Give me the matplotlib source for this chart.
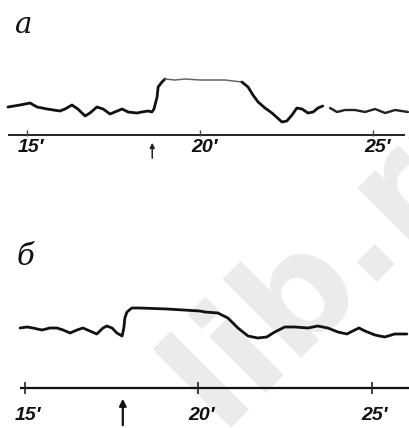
import matplotlib.pyplot as plt

# -----------------------------
# Data (minutes, arbitrary signal units; axis line = 0)
# -----------------------------
tick_minutes = [15, 20, 25]
tick_labels = ["15′", "20′", "25′"]

# trace a: baseline, rise after stimulus, plateau, fall, tail
a_pre_time = [14.45, 14.80, 15.09, 15.29, 15.58, 15.95, 16.10, 16.30, 16.47, 16.68,
              16.82, 17.02, 17.20, 17.40, 17.54, 17.75, 17.92, 18.18, 18.32, 18.50,
              18.61, 18.67, 18.76, 18.79, 18.90, 18.99]
a_pre_signal = [2.8, 3.0, 3.2, 2.8, 2.6, 2.4, 2.6, 3.0, 2.6, 1.9,
                2.2, 2.8, 2.6, 2.1, 2.3, 2.6, 2.3, 2.2, 2.3, 2.4,
                2.3, 2.6, 3.8, 4.8, 5.3, 5.6]
a_plateau_time = [18.99, 19.28, 19.57, 20.00, 20.43, 20.72, 21.21]
a_plateau_signal = [5.6, 5.5, 5.6, 5.5, 5.5, 5.5, 5.3]
a_post_time = [21.21, 21.39, 21.53, 21.68, 21.88, 22.08, 22.37, 22.51, 22.66, 22.80,
               22.95, 23.12, 23.27, 23.41, 23.55]
a_post_signal = [5.3, 4.8, 4.0, 3.3, 2.7, 2.2, 1.3, 1.4, 2.0, 2.7,
                 2.6, 2.2, 2.3, 2.7, 2.9]
a_tail_time = [23.76, 23.96, 24.19, 24.48, 24.77, 25.06, 25.35, 25.64, 26.01]
a_tail_signal = [2.7, 2.3, 2.5, 2.5, 2.3, 2.6, 2.2, 2.5, 2.3]
a_stimulus = 18.62
a_axis_span = [14.45, 25.92]

# trace b
b_time = [14.86, 15.06, 15.23, 15.49, 15.72, 15.92, 16.10, 16.30, 16.50, 16.67,
          16.87, 17.07, 17.25, 17.36, 17.51, 17.65, 17.80, 17.85, 17.88, 17.94,
          18.08, 18.31, 19.09, 20.04, 20.19, 20.56, 20.85, 21.14, 21.43, 21.71,
          21.97, 22.20, 22.49, 22.78, 23.16, 23.44, 23.73, 24.02, 24.28, 24.45,
          24.63, 24.80, 25.09, 25.37, 25.66, 26.01]
b_signal = [6.0, 6.1, 6.0, 5.8, 6.0, 6.0, 5.8, 5.5, 5.8, 6.0,
            5.7, 5.4, 6.0, 6.2, 6.0, 5.5, 5.2, 6.0, 7.0, 7.6,
            8.0, 8.0, 7.9, 7.7, 7.6, 7.5, 7.0, 6.0, 5.2, 5.0,
            5.1, 5.6, 6.1, 6.1, 6.0, 6.2, 6.0, 5.6, 5.4, 5.7,
            6.0, 5.7, 5.3, 5.1, 5.4, 5.4]
b_stimulus = 17.82
b_axis_span = [14.86, 26.10]

# -----------------------------
# Figure
# -----------------------------
W, H = 410, 428
fig = plt.figure(figsize=(W / 100, H / 100), dpi=100)
fig.patch.set_facecolor("white")

# faint watermark of the scanned page (behind everything)
fig.text(345 / W, 1 - 245 / H, "lib.ru", fontsize=105, fontweight="bold",
         color="#ebebeb", rotation=45, ha="center", va="center",
         family="DejaVu Sans", zorder=-5)

ink = "#111111"
trace_kw = dict(color=ink, lw=2.0, solid_capstyle="round", solid_joinstyle="round")
lbl_font = dict(family=["Liberation Sans", "DejaVu Sans"], style="italic",
                fontweight="bold", fontsize=14, color=ink)

# panel a: axes spans pixel rows 60..170
ax_a = fig.add_axes([0, 1 - 170 / H, 1, 110 / H])
ax_a.set_xlim(14.22, 26.07)
ax_a.set_ylim(-3.5, 7.5)
ax_a.plot(a_pre_time, a_pre_signal, **trace_kw)
ax_a.plot(a_plateau_time, a_plateau_signal, color="#666666", lw=1.1,
          solid_capstyle="round")
ax_a.plot(a_post_time, a_post_signal, **trace_kw)
ax_a.plot(a_tail_time, a_tail_signal, color="#222222", lw=1.7,
          solid_capstyle="round", solid_joinstyle="round")
ax_a.hlines(0, a_axis_span[0], a_axis_span[1], color=ink, lw=1.3)
ax_a.plot(tick_minutes, [0.25] * 3, ls="none", marker="|", ms=4, mew=1.0,
          color="#444444")
for t, s in zip(tick_minutes, tick_labels):
    ax_a.text(t + 0.12, -1.3, s, ha="center", va="center", **lbl_font)
ax_a.annotate("", xy=(a_stimulus, -0.5), xytext=(a_stimulus, -2.6),
              arrowprops=dict(arrowstyle="-|>", color="#222222", lw=1.1,
                              mutation_scale=7))
ax_a.axis("off")

# panel b: axes spans pixel rows 283..428
ax_b = fig.add_axes([0, 0, 1, 145 / H])
ax_b.set_xlim(14.28, 26.10)
ax_b.set_ylim(-4.0, 10.5)
ax_b.plot(b_time, b_signal, **trace_kw)
ax_b.hlines(0, b_axis_span[0], b_axis_span[1], color=ink, lw=1.6)
ax_b.plot(tick_minutes, [0] * 3, ls="none", marker="|", ms=9, mew=1.2,
          color="#222222")
for t, s in zip(tick_minutes, tick_labels):
    ax_b.text(t + 0.08, -2.7, s, ha="center", va="center", **lbl_font)
ax_b.annotate("", xy=(b_stimulus, -0.8), xytext=(b_stimulus, -4.0),
              arrowprops=dict(arrowstyle="-|>", color=ink, lw=1.6,
                              mutation_scale=10))
ax_b.axis("off")

# panel letters
fig.text(23 / W, 1 - 25 / H, "а", family="DejaVu Serif", style="italic",
         fontsize=21, ha="center", va="center", color=ink)
fig.text(25 / W, 1 - 257 / H, "б", family="DejaVu Serif", style="italic",
         fontsize=21, ha="center", va="center", color=ink)

fig.savefig("out.png", dpi=100)
